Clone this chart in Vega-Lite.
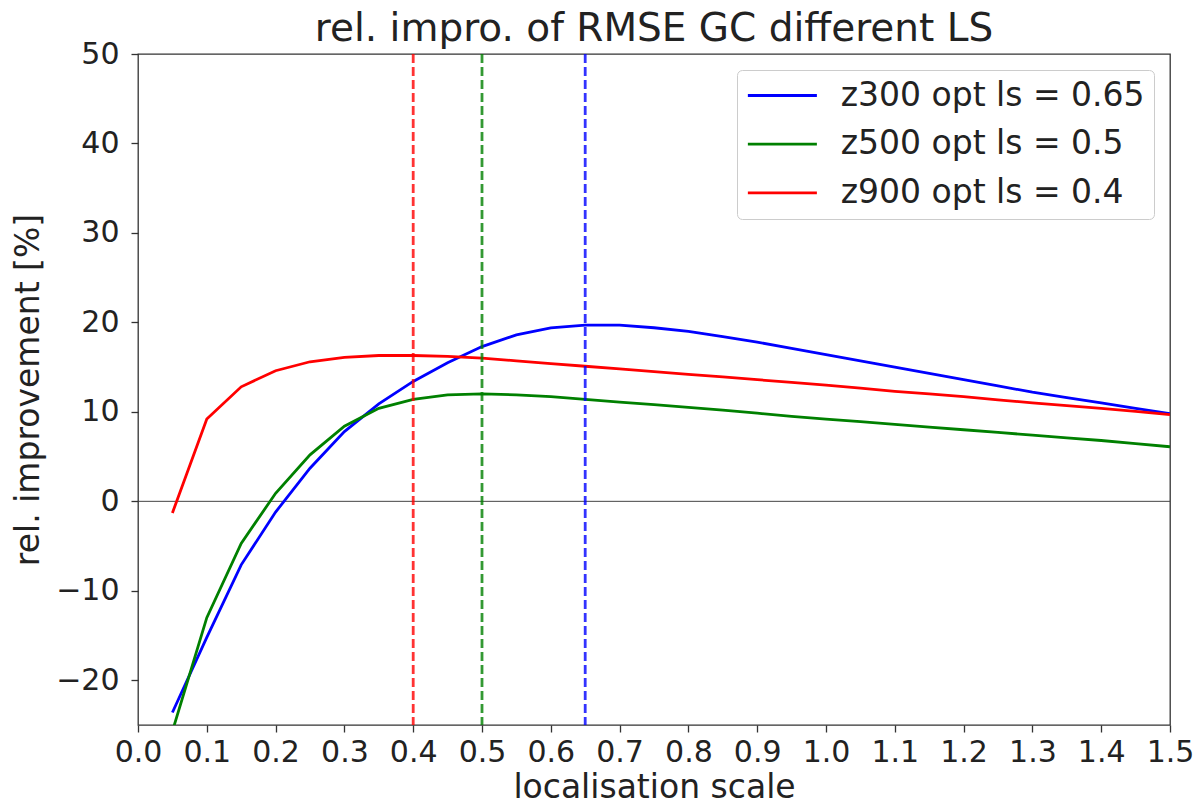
{
  "$schema": "https://vega.github.io/schema/vega-lite/v6.json",
  "autosize": "none",
  "width": 1032,
  "height": 671,
  "padding": {"left": 138, "top": 54, "right": 31, "bottom": 82},
  "background": "white",
  "config": {
    "font": "DejaVu Sans",
    "view": {"stroke": "#333333", "strokeWidth": 1.3},
    "axis": {"grid": false, "domain": false, "tickColor": "#333333", "tickSize": 7, "tickWidth": 1.3, "labelColor": "#222222", "labelFontSize": 30, "titleFontSize": 33, "titleFontWeight": "normal", "titleColor": "#222222", "labelFlush": false}
  },
  "title": {"text": "rel. impro. of RMSE GC different LS", "fontSize": 39, "fontWeight": "normal", "color": "#222222", "offset": -10, "anchor": "middle"},
  "datasets": {
    "curves": [
      {"ls": 0.05, "series": "z300 opt ls = 0.65", "v": -23.6},
      {"ls": 0.1, "series": "z300 opt ls = 0.65", "v": -15.2},
      {"ls": 0.15, "series": "z300 opt ls = 0.65", "v": -7.1},
      {"ls": 0.2, "series": "z300 opt ls = 0.65", "v": -1.2},
      {"ls": 0.25, "series": "z300 opt ls = 0.65", "v": 3.7},
      {"ls": 0.3, "series": "z300 opt ls = 0.65", "v": 7.8},
      {"ls": 0.35, "series": "z300 opt ls = 0.65", "v": 10.9},
      {"ls": 0.4, "series": "z300 opt ls = 0.65", "v": 13.4},
      {"ls": 0.45, "series": "z300 opt ls = 0.65", "v": 15.5},
      {"ls": 0.5, "series": "z300 opt ls = 0.65", "v": 17.3},
      {"ls": 0.55, "series": "z300 opt ls = 0.65", "v": 18.6},
      {"ls": 0.6, "series": "z300 opt ls = 0.65", "v": 19.4},
      {"ls": 0.65, "series": "z300 opt ls = 0.65", "v": 19.7},
      {"ls": 0.7, "series": "z300 opt ls = 0.65", "v": 19.7},
      {"ls": 0.75, "series": "z300 opt ls = 0.65", "v": 19.4},
      {"ls": 0.8, "series": "z300 opt ls = 0.65", "v": 19.0},
      {"ls": 0.85, "series": "z300 opt ls = 0.65", "v": 18.4},
      {"ls": 0.9, "series": "z300 opt ls = 0.65", "v": 17.8},
      {"ls": 0.95, "series": "z300 opt ls = 0.65", "v": 17.1},
      {"ls": 1.0, "series": "z300 opt ls = 0.65", "v": 16.4},
      {"ls": 1.05, "series": "z300 opt ls = 0.65", "v": 15.7},
      {"ls": 1.1, "series": "z300 opt ls = 0.65", "v": 15.0},
      {"ls": 1.15, "series": "z300 opt ls = 0.65", "v": 14.3},
      {"ls": 1.2, "series": "z300 opt ls = 0.65", "v": 13.6},
      {"ls": 1.25, "series": "z300 opt ls = 0.65", "v": 12.9},
      {"ls": 1.3, "series": "z300 opt ls = 0.65", "v": 12.2},
      {"ls": 1.35, "series": "z300 opt ls = 0.65", "v": 11.6},
      {"ls": 1.4, "series": "z300 opt ls = 0.65", "v": 11.0},
      {"ls": 1.45, "series": "z300 opt ls = 0.65", "v": 10.4},
      {"ls": 1.5, "series": "z300 opt ls = 0.65", "v": 9.8},
      {"ls": 0.05, "series": "z500 opt ls = 0.5", "v": -25.7},
      {"ls": 0.1, "series": "z500 opt ls = 0.5", "v": -13.0},
      {"ls": 0.15, "series": "z500 opt ls = 0.5", "v": -4.7},
      {"ls": 0.2, "series": "z500 opt ls = 0.5", "v": 0.9},
      {"ls": 0.25, "series": "z500 opt ls = 0.5", "v": 5.2},
      {"ls": 0.3, "series": "z500 opt ls = 0.5", "v": 8.4},
      {"ls": 0.35, "series": "z500 opt ls = 0.5", "v": 10.4},
      {"ls": 0.4, "series": "z500 opt ls = 0.5", "v": 11.4},
      {"ls": 0.45, "series": "z500 opt ls = 0.5", "v": 11.9},
      {"ls": 0.5, "series": "z500 opt ls = 0.5", "v": 12.0},
      {"ls": 0.55, "series": "z500 opt ls = 0.5", "v": 11.9},
      {"ls": 0.6, "series": "z500 opt ls = 0.5", "v": 11.7},
      {"ls": 0.65, "series": "z500 opt ls = 0.5", "v": 11.4},
      {"ls": 0.7, "series": "z500 opt ls = 0.5", "v": 11.1},
      {"ls": 0.75, "series": "z500 opt ls = 0.5", "v": 10.8},
      {"ls": 0.8, "series": "z500 opt ls = 0.5", "v": 10.5},
      {"ls": 0.85, "series": "z500 opt ls = 0.5", "v": 10.2},
      {"ls": 0.9, "series": "z500 opt ls = 0.5", "v": 9.85},
      {"ls": 0.95, "series": "z500 opt ls = 0.5", "v": 9.5},
      {"ls": 1.0, "series": "z500 opt ls = 0.5", "v": 9.2},
      {"ls": 1.05, "series": "z500 opt ls = 0.5", "v": 8.9},
      {"ls": 1.1, "series": "z500 opt ls = 0.5", "v": 8.6},
      {"ls": 1.15, "series": "z500 opt ls = 0.5", "v": 8.3},
      {"ls": 1.2, "series": "z500 opt ls = 0.5", "v": 8.0},
      {"ls": 1.25, "series": "z500 opt ls = 0.5", "v": 7.7},
      {"ls": 1.3, "series": "z500 opt ls = 0.5", "v": 7.4},
      {"ls": 1.35, "series": "z500 opt ls = 0.5", "v": 7.1},
      {"ls": 1.4, "series": "z500 opt ls = 0.5", "v": 6.8},
      {"ls": 1.45, "series": "z500 opt ls = 0.5", "v": 6.45},
      {"ls": 1.5, "series": "z500 opt ls = 0.5", "v": 6.1},
      {"ls": 0.05, "series": "z900 opt ls = 0.4", "v": -1.3},
      {"ls": 0.1, "series": "z900 opt ls = 0.4", "v": 9.2},
      {"ls": 0.15, "series": "z900 opt ls = 0.4", "v": 12.8},
      {"ls": 0.2, "series": "z900 opt ls = 0.4", "v": 14.6},
      {"ls": 0.25, "series": "z900 opt ls = 0.4", "v": 15.6},
      {"ls": 0.3, "series": "z900 opt ls = 0.4", "v": 16.1},
      {"ls": 0.35, "series": "z900 opt ls = 0.4", "v": 16.3},
      {"ls": 0.4, "series": "z900 opt ls = 0.4", "v": 16.3},
      {"ls": 0.45, "series": "z900 opt ls = 0.4", "v": 16.2},
      {"ls": 0.5, "series": "z900 opt ls = 0.4", "v": 16.0},
      {"ls": 0.55, "series": "z900 opt ls = 0.4", "v": 15.7},
      {"ls": 0.6, "series": "z900 opt ls = 0.4", "v": 15.4},
      {"ls": 0.65, "series": "z900 opt ls = 0.4", "v": 15.1},
      {"ls": 0.7, "series": "z900 opt ls = 0.4", "v": 14.8},
      {"ls": 0.75, "series": "z900 opt ls = 0.4", "v": 14.5},
      {"ls": 0.8, "series": "z900 opt ls = 0.4", "v": 14.2},
      {"ls": 0.85, "series": "z900 opt ls = 0.4", "v": 13.9},
      {"ls": 0.9, "series": "z900 opt ls = 0.4", "v": 13.6},
      {"ls": 0.95, "series": "z900 opt ls = 0.4", "v": 13.3},
      {"ls": 1.0, "series": "z900 opt ls = 0.4", "v": 13.0},
      {"ls": 1.05, "series": "z900 opt ls = 0.4", "v": 12.65},
      {"ls": 1.1, "series": "z900 opt ls = 0.4", "v": 12.3},
      {"ls": 1.15, "series": "z900 opt ls = 0.4", "v": 12.0},
      {"ls": 1.2, "series": "z900 opt ls = 0.4", "v": 11.7},
      {"ls": 1.25, "series": "z900 opt ls = 0.4", "v": 11.35},
      {"ls": 1.3, "series": "z900 opt ls = 0.4", "v": 11.0},
      {"ls": 1.35, "series": "z900 opt ls = 0.4", "v": 10.7},
      {"ls": 1.4, "series": "z900 opt ls = 0.4", "v": 10.4},
      {"ls": 1.45, "series": "z900 opt ls = 0.4", "v": 10.05},
      {"ls": 1.5, "series": "z900 opt ls = 0.4", "v": 9.7}
    ],
    "optima": [
      {"ls": 0.65, "series": "z300 opt ls = 0.65"},
      {"ls": 0.5, "series": "z500 opt ls = 0.5"},
      {"ls": 0.4, "series": "z900 opt ls = 0.4"}
    ],
    "zero": [{"v": 0}]
  },
  "layer": [
    {
      "data": {"name": "zero"},
      "mark": {"type": "rule", "color": "#444444", "strokeWidth": 1},
      "encoding": {"y": {"field": "v", "type": "quantitative"}}
    },
    {
      "data": {"name": "curves"},
      "mark": {"type": "line", "strokeWidth": 2.8, "clip": true},
      "encoding": {
        "x": {"field": "ls", "type": "quantitative", "scale": {"domain": [0, 1.5], "nice": false, "zero": false},
          "axis": {"title": "localisation scale", "values": [0, 0.1, 0.2, 0.3, 0.4, 0.5, 0.6, 0.7, 0.8, 0.9, 1.0, 1.1, 1.2, 1.3, 1.4, 1.5], "format": ".1f", "labelPadding": 5, "titlePadding": 4, "labelOverlap": false}},
        "y": {"field": "v", "type": "quantitative", "scale": {"domain": [-25, 50], "nice": false},
          "axis": {"title": "rel. improvement [%]", "values": [-20, -10, 0, 10, 20, 30, 40, 50], "labelExpr": "replace(datum.label, '-', '−')", "labelPadding": 12, "titlePadding": 10}},
        "color": {"field": "series", "type": "nominal",
          "scale": {"domain": ["z300 opt ls = 0.65", "z500 opt ls = 0.5", "z900 opt ls = 0.4"], "range": ["#0000ff", "#008000", "#ff0000"]},
          "legend": {"title": null, "orient": "top-right", "offset": 16, "symbolType": "M-1.69,0H6.28", "symbolStrokeWidth": 2.8, "symbolSize": 300, "labelFontSize": 33, "labelColor": "#222222", "labelLimit": 500, "rowPadding": 14.7, "labelOffset": 61.7, "fillColor": "white", "strokeColor": "#cccccc", "cornerRadius": 5, "padding": 9}}
      }
    },
    {
      "data": {"name": "optima"},
      "mark": {"type": "rule", "strokeWidth": 2.8, "strokeDash": [9, 4], "opacity": 0.8},
      "encoding": {
        "x": {"field": "ls", "type": "quantitative"},
        "color": {"field": "series", "type": "nominal", "legend": null}
      }
    }
  ]
}
